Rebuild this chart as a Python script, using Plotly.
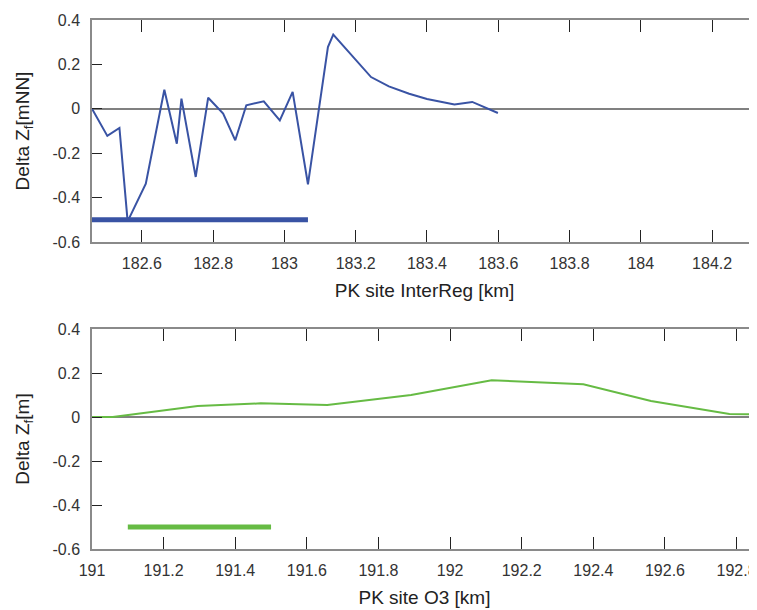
import plotly.graph_objects as go

# Top panel: PK site InterReg
x_top = [182.46, 182.503, 182.537, 182.56, 182.611, 182.663, 182.698, 182.711, 182.751,
         182.786, 182.828, 182.862, 182.893, 182.942, 182.987, 183.023, 183.066, 183.122,
         183.137, 183.243, 183.293, 183.35, 183.40, 183.477, 183.527, 183.55, 183.599]
y_top = [0.0, -0.122, -0.086, -0.507, -0.337, 0.086, -0.157, 0.046, -0.307,
         0.050, -0.022, -0.142, 0.016, 0.034, -0.052, 0.076, -0.340, 0.278,
         0.334, 0.143, 0.101, 0.068, 0.044, 0.019, 0.031, 0.016, -0.019]
bar_top_x = [182.46, 183.066]
bar_top_y = [-0.5, -0.5]

# Bottom panel: PK site O3
x_bot = [191.0, 191.058, 191.295, 191.471, 191.657, 191.891, 192.116, 192.372, 192.561, 192.78, 192.86]
y_bot = [0.0, 0.0, 0.050, 0.062, 0.055, 0.100, 0.167, 0.149, 0.073, 0.014, 0.012]
bar_bot_x = [191.1, 191.5]
bar_bot_y = [-0.5, -0.5]

y_ticks = [0.4, 0.2, 0, -0.2, -0.4, -0.6]
y_ticktext = ["0.4", "0.2", "0", "-0.2", "-0.4", "-0.6"]

BLUE = "#3953a4"
GREEN = "#66bb44"
FONT = "Liberation Sans, Arial, sans-serif"

fig = go.Figure()
fig.add_trace(go.Scatter(x=x_top, y=y_top, mode="lines", line=dict(color=BLUE, width=2),
                         xaxis="x", yaxis="y", showlegend=False, hoverinfo="skip"))
fig.add_trace(go.Scatter(x=bar_top_x, y=bar_top_y, mode="lines", line=dict(color=BLUE, width=5),
                         xaxis="x", yaxis="y", showlegend=False, hoverinfo="skip"))
fig.add_trace(go.Scatter(x=x_bot, y=y_bot, mode="lines", line=dict(color=GREEN, width=2),
                         xaxis="x2", yaxis="y2", showlegend=False, hoverinfo="skip"))
fig.add_trace(go.Scatter(x=bar_bot_x, y=bar_bot_y, mode="lines", line=dict(color=GREEN, width=5),
                         xaxis="x2", yaxis="y2", showlegend=False, hoverinfo="skip"))

OFF = 8  # page body margin offset
W = 757 - OFF
H = 610.0 - OFF
common_x = dict(showgrid=False, zeroline=False, showline=True, linecolor="#8a8a8a", linewidth=1.5,
                mirror="ticks", ticks="inside", ticklen=12, tickcolor="#222222", tickwidth=1,
                tickfont=dict(size=16, color="#333333", family=FONT), dtick=0.2,
                ticklabelstandoff=6, automargin=False,
                title_font=dict(size=19, color="#222222", family=FONT), title_standoff=13)
common_y = dict(showgrid=False, zeroline=True, zerolinecolor="#808080", zerolinewidth=1.5,
                showline=True, linecolor="#8a8a8a", linewidth=1.5, mirror=False,
                ticks="inside", ticklen=10, tickcolor="#222222", tickwidth=1,
                tickmode="array", tickvals=y_ticks, ticktext=y_ticktext,
                tickfont=dict(size=16, color="#333333", family=FONT), ticklabelstandoff=7,
                automargin=False,
                title_font=dict(size=19, color="#222222", family=FONT), title_standoff=18)

fig.update_layout(
    width=W, height=H,
    margin=dict(l=92 - OFF, r=0, t=0, b=0),
    paper_bgcolor="white", plot_bgcolor="white",
    font=dict(family=FONT),
    xaxis=dict(common_x, domain=[0, 1], range=[182.46, 184.326], anchor="y",
               title_text="PK site InterReg [km]", tick0=182.6),
    yaxis=dict(common_y, domain=[1 - (242 - OFF) / H, 1 - (20 - OFF) / H], range=[-0.6, 0.4], anchor="x",
               title_text="Delta Z<sub>f</sub>[mNN]"),
    xaxis2=dict(common_x, domain=[0, 1], range=[191.0, 192.857], anchor="y2",
                title_text="PK site O3 [km]", tick0=191.0),
    yaxis2=dict(common_y, domain=[1 - (549 - OFF) / H, 1 - (329 - OFF) / H], range=[-0.6, 0.4], anchor="x2",
                title_text="Delta Z<sub>f</sub>[m]"),
)

fig.write_html("out.html")
